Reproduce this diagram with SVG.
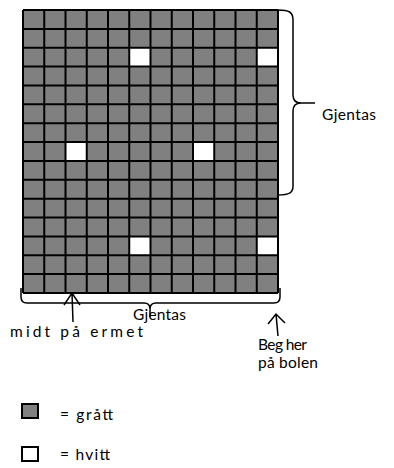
<svg xmlns="http://www.w3.org/2000/svg" width="394" height="468" viewBox="0 0 394 468">
<style>
.t{font-family:Lato,"Open Sans","Noto Sans",sans-serif;font-size:15.5px;fill:#000}
.ln{fill:none;stroke:#000;stroke-width:1.5}
.gl{fill:none;stroke:#000;stroke-width:2}
</style>
<rect width="394" height="468" fill="#fff"/>
<g id="grid">
<rect x="23" y="10" width="255" height="283" fill="#808080"/>
<g fill="#fff">
<rect x="129.25" y="47.7" width="21.25" height="18.9"/>
<rect x="256.75" y="47.7" width="21.25" height="18.9"/>
<rect x="65.5" y="142.1" width="21.25" height="18.9"/>
<rect x="193" y="142.1" width="21.25" height="18.9"/>
<rect x="129.25" y="236.5" width="21.25" height="18.9"/>
<rect x="256.75" y="236.5" width="21.25" height="18.9"/>
</g>
<path class="gl" d="M23,10V293M44.25,10V293M65.5,10V293M86.75,10V293M108,10V293M129.25,10V293M150.5,10V293M171.75,10V293M193,10V293M214.25,10V293M235.5,10V293M256.75,10V293M278,10V293
M23,10H278M23,28.9H278M23,47.7H278M23,66.6H278M23,85.5H278M23,104.3H278M23,123.2H278M23,142.1H278M23,160.9H278M23,179.8H278M23,198.7H278M23,217.5H278M23,236.4H278M23,255.3H278M23,274.1H278M23,293H278"/>
</g>
<g id="connectors">
<path class="ln" d="M278,10 C289,10 293,12 293,20 L293,95 C293,100 296,103 301,103 C296,103 293,106 293,111 L293,186 C293,193 289,195 278,195"/>
<path class="ln" d="M301,103 L315,103"/>
<path class="ln" d="M21,288 L21,297 C21,301 23,303 27,303 L144,303 C148,303 150,305 150,309 C150,305 152,303 156,303 L274,303 C278,303 280,301 280,297 L280,288"/>
<path class="ln" d="M150,309 L150,317"/>
<path class="ln" d="M73,322 L72,293 M64,305 L72,293 L80,305"/>
<path class="ln" d="M278,336 L276,314 M268,324 L276,314 L285,323"/>
</g>
<g id="label-right"><text class="t" x="322" y="120" textLength="54" lengthAdjust="spacing">Gjentas</text></g>
<g id="label-bottom"><text class="t" x="133" y="320" textLength="53" lengthAdjust="spacing">Gjentas</text></g>
<g id="label-midt"><text class="t" x="10" y="337" textLength="133" lengthAdjust="spacing">midt på ermet</text></g>
<g id="label-beg"><text class="t" x="258" y="350" textLength="49" lengthAdjust="spacing">Beg her</text><text class="t" x="258" y="368" textLength="60" lengthAdjust="spacing">på bolen</text></g>
<g id="legend-gray"><rect x="22" y="404" width="16" height="14" fill="#808080" stroke="#000" stroke-width="2"/><text class="t" x="60" y="420" textLength="53" lengthAdjust="spacing">=  grått</text></g>
<g id="legend-white"><rect x="22" y="447" width="16" height="14" fill="#fff" stroke="#000" stroke-width="2"/><text class="t" x="60" y="460" textLength="50" lengthAdjust="spacing">= hvitt</text></g>
</svg>
